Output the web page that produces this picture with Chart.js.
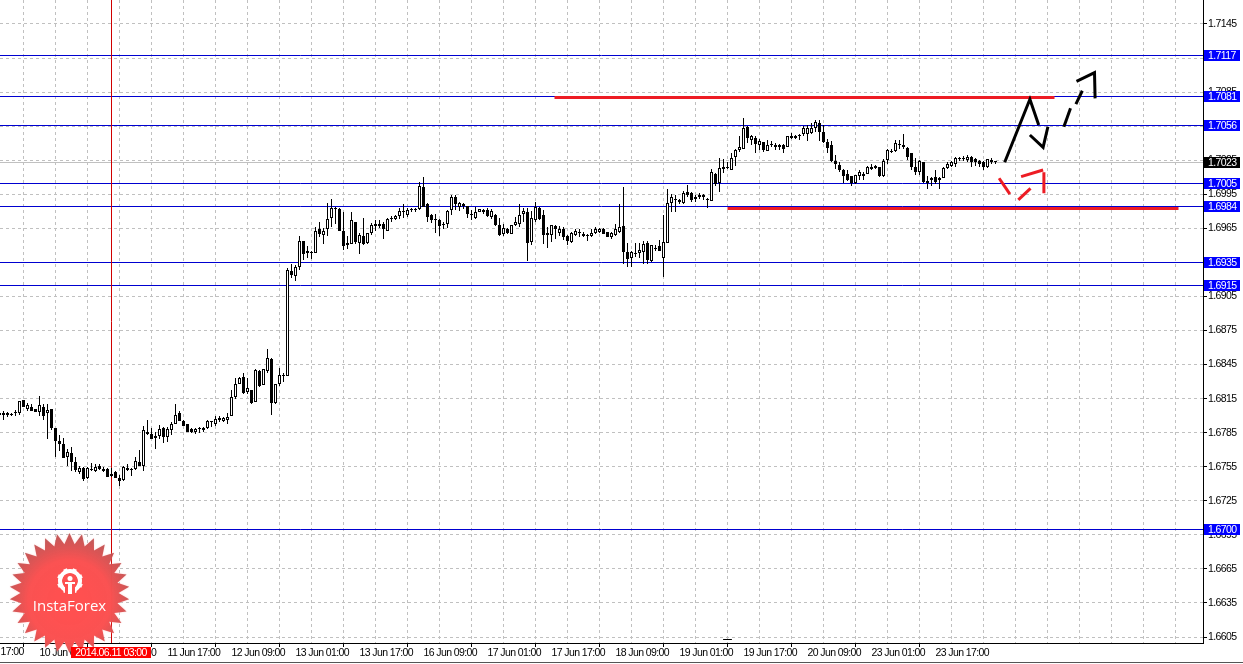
<!DOCTYPE html>
<html>
<head>
    <meta charset="utf-8">
    <title>GBPUSD H1</title>
    <script src="https://cdn.jsdelivr.net/npm/chart.js@4.4.1/dist/chart.umd.min.js"></script>
    <style>
        html, body { margin: 0; padding: 0; background: #fff; }
        canvas { display: block; }
    </style>
</head>
<body>
    <canvas id="myChart" width="1243" height="664"></canvas>
    <script>
        // hourly candles, x is the hour counted from the 09 Jun 23:00 bar
        const firstHour = -2;
        const opens = [
            1.6801,1.6801,1.6801,1.6801,1.6802,1.6802,1.6814,1.6806,1.6808,1.6806,
            1.6803,1.6808,1.6802,1.6806,1.6789,1.6778,1.6775,1.6764,1.6767,1.6759,
            1.6750,1.6754,1.6745,1.6752,1.6751,1.6756,1.6753,1.6753,1.6749,1.6750,
            1.6745,1.6743,1.6754,1.6753,1.6753,1.6759,1.6756,1.6786,1.6784,1.6782,
            1.6782,1.6789,1.6781,1.6787,1.6793,1.6802,1.6795,1.6793,1.6788,1.6786,
            1.6788,1.6789,1.6789,1.6795,1.6793,1.6796,1.6795,1.6796,1.6800,1.6816,
            1.6828,1.6834,1.6821,1.6823,1.6812,1.6839,1.6827,1.6839,1.6850,1.6811,
            1.6828,1.6835,1.6835,1.6927,1.6923,1.6931,1.6954,1.6943,1.6943,1.6943,
            1.6964,1.6959,1.6964,1.6974,1.6983,1.6982,1.6963,1.6950,1.6951,1.6971,
            1.6952,1.6958,1.6952,1.6961,1.6967,1.6967,1.6969,1.6963,1.6973,1.6973,
            1.6976,1.6979,1.6977,1.6981,1.6981,1.6982,1.7001,1.6986,1.6977,1.6973,
            1.6972,1.6969,1.6969,1.6981,1.6993,1.6984,1.6986,1.6985,1.6977,1.6974,
            1.6979,1.6981,1.6981,1.6975,1.6977,1.6968,1.6960,1.6964,1.6960,1.6968,
            1.6969,1.6978,1.6979,1.6953,1.6972,1.6983,1.6977,1.6959,1.6959,1.6967,
            1.6961,1.6964,1.6958,1.6953,1.6959,1.6961,1.6960,1.6959,1.6958,1.6961,
            1.6962,1.6964,1.6962,1.6957,1.6959,1.6962,1.6967,1.6944,1.6939,1.6943,
            1.6943,1.6944,1.6952,1.6936,1.6947,1.6949,1.6939,1.6952,1.6987,1.6990,
            1.6990,1.6987,1.6997,1.6996,1.6991,1.6993,1.6993,1.6991,1.6989,1.7013,
            1.7005,1.7017,1.7018,1.7016,1.7028,1.7034,1.7035,1.7054,1.7043,1.7045,
            1.7038,1.7041,1.7033,1.7038,1.7038,1.7037,1.7038,1.7037,1.7045,1.7045,
            1.7046,1.7048,1.7048,1.7049,1.7053,1.7058,1.7050,1.7041,1.7038,1.7024,
            1.7021,1.7016,1.7013,1.7011,1.7005,1.7011,1.7013,1.7013,1.7019,1.7018,
            1.7019,1.7011,1.7025,1.7032,1.7033,1.7038,1.7038,1.7036,1.7031,1.7019,
            1.7015,1.7023,1.7007,1.7008,1.7010,1.7009,1.7009,1.7018,1.7020,1.7022,
            1.7027,1.7026,1.7025,1.7028,1.7026,1.7024,1.7023,1.7019,1.7025,1.7024
        ];
        const highs = [
            1.6802,1.6804,1.6803,1.6802,1.6805,1.6813,1.6814,1.6811,1.6810,1.6806,
            1.6817,1.6810,1.6810,1.6806,1.6789,1.6783,1.6780,1.6771,1.6772,1.6764,
            1.6756,1.6755,1.6755,1.6758,1.6757,1.6757,1.6755,1.6754,1.6754,1.6751,
            1.6748,1.6756,1.6757,1.6754,1.6764,1.6770,1.6791,1.6796,1.6789,1.6786,
            1.6792,1.6790,1.6790,1.6794,1.6810,1.6804,1.6796,1.6793,1.6789,1.6789,
            1.6790,1.6790,1.6796,1.6795,1.6800,1.6800,1.6799,1.6802,1.6823,1.6833,
            1.6834,1.6838,1.6833,1.6823,1.6841,1.6840,1.6841,1.6859,1.6851,1.6828,
            1.6842,1.6838,1.6930,1.6934,1.6933,1.6958,1.6954,1.6949,1.6945,1.6966,
            1.6971,1.6965,1.6987,1.6991,1.6984,1.6983,1.6979,1.6958,1.6979,1.6971,
            1.6961,1.6974,1.6961,1.6970,1.6972,1.6972,1.6971,1.6974,1.6976,1.6977,
            1.6983,1.6986,1.6983,1.6983,1.6983,1.7006,1.7010,1.6987,1.6978,1.6978,
            1.6973,1.6971,1.6981,1.6994,1.6994,1.6988,1.6987,1.6985,1.6981,1.6984,
            1.6982,1.6982,1.6983,1.6982,1.6978,1.6974,1.6969,1.6965,1.6968,1.6975,
            1.6986,1.6983,1.6983,1.6980,1.6988,1.6984,1.6981,1.6966,1.6968,1.6968,
            1.6967,1.6966,1.6959,1.6962,1.6964,1.6964,1.6962,1.6960,1.6964,1.6966,
            1.6965,1.6965,1.6962,1.6962,1.6969,1.6986,1.7001,1.6952,1.6945,1.6952,
            1.6952,1.6954,1.6954,1.6950,1.6950,1.6955,1.6977,1.7000,1.6995,1.6994,
            1.6991,1.6998,1.7003,1.6997,1.6994,1.6996,1.6995,1.6992,1.7017,1.7014,
            1.7027,1.7026,1.7023,1.7031,1.7035,1.7046,1.7062,1.7055,1.7047,1.7046,
            1.7044,1.7041,1.7043,1.7042,1.7040,1.7039,1.7039,1.7046,1.7049,1.7047,
            1.7048,1.7055,1.7056,1.7058,1.7060,1.7060,1.7056,1.7044,1.7042,1.7030,
            1.7023,1.7017,1.7016,1.7011,1.7012,1.7016,1.7015,1.7020,1.7022,1.7021,
            1.7019,1.7026,1.7035,1.7035,1.7043,1.7043,1.7048,1.7037,1.7031,1.7027,
            1.7025,1.7023,1.7011,1.7010,1.7016,1.7010,1.7019,1.7023,1.7024,1.7028,
            1.7028,1.7029,1.7030,1.7029,1.7027,1.7025,1.7024,1.7026,1.7027,1.7024
        ];
        const lows = [
            1.6794,1.6796,1.6799,1.6800,1.6800,1.6801,1.6808,1.6804,1.6804,1.6803,
            1.6800,1.6796,1.6779,1.6787,1.6764,1.6769,1.6763,1.6756,1.6751,1.6750,
            1.6749,1.6742,1.6744,1.6751,1.6750,1.6752,1.6750,1.6746,1.6746,1.6745,
            1.6738,1.6742,1.6751,1.6747,1.6752,1.6756,1.6751,1.6783,1.6779,1.6771,
            1.6779,1.6776,1.6777,1.6783,1.6793,1.6795,1.6791,1.6786,1.6785,1.6784,
            1.6785,1.6786,1.6788,1.6790,1.6791,1.6794,1.6794,1.6793,1.6800,1.6815,
            1.6828,1.6819,1.6819,1.6810,1.6812,1.6825,1.6827,1.6838,1.6801,1.6810,
            1.6826,1.6830,1.6835,1.6921,1.6919,1.6928,1.6937,1.6939,1.6938,1.6943,
            1.6957,1.6951,1.6958,1.6966,1.6969,1.6963,1.6946,1.6947,1.6951,1.6951,
            1.6942,1.6950,1.6951,1.6959,1.6963,1.6965,1.6956,1.6963,1.6971,1.6972,
            1.6973,1.6974,1.6975,1.6979,1.6979,1.6981,1.6984,1.6971,1.6970,1.6961,
            1.6958,1.6964,1.6965,1.6977,1.6981,1.6980,1.6982,1.6974,1.6972,1.6973,
            1.6979,1.6978,1.6975,1.6973,1.6967,1.6958,1.6958,1.6960,1.6960,1.6967,
            1.6966,1.6971,1.6936,1.6950,1.6971,1.6972,1.6951,1.6948,1.6953,1.6956,
            1.6958,1.6955,1.6950,1.6952,1.6958,1.6957,1.6957,1.6954,1.6957,1.6960,
            1.6961,1.6960,1.6957,1.6956,1.6958,1.6961,1.6934,1.6931,1.6931,1.6940,
            1.6939,1.6934,1.6934,1.6935,1.6945,1.6945,1.6922,1.6952,1.6979,1.6979,
            1.6986,1.6986,1.6993,1.6988,1.6988,1.6991,1.6990,1.6983,1.6989,1.7002,
            1.6997,1.7014,1.7017,1.7016,1.7020,1.7032,1.7035,1.7040,1.7038,1.7031,
            1.7034,1.7032,1.7033,1.7037,1.7034,1.7034,1.7031,1.7037,1.7044,1.7044,
            1.7043,1.7046,1.7042,1.7048,1.7050,1.7042,1.7040,1.7031,1.7023,1.7017,
            1.7015,1.7005,1.7007,1.7002,1.7004,1.7008,1.7008,1.7013,1.7016,1.7017,
            1.7010,1.7010,1.7022,1.7031,1.7032,1.7035,1.7035,1.7025,1.7016,1.7012,
            1.7012,1.7005,1.7000,1.7002,1.7004,1.7000,1.7009,1.7017,1.7019,1.7019,
            1.7024,1.7024,1.7023,1.7019,1.7020,1.7019,1.7016,1.7018,1.7022,1.7022
        ];
        const closes = [
            1.6802,1.6802,1.6802,1.6801,1.6803,1.6813,1.6808,1.6809,1.6804,1.6803,
            1.6809,1.6800,1.6805,1.6789,1.6778,1.6775,1.6763,1.6768,1.6759,1.6752,
            1.6754,1.6744,1.6754,1.6753,1.6755,1.6753,1.6751,1.6746,1.6747,1.6745,
            1.6742,1.6755,1.6752,1.6752,1.6760,1.6756,1.6787,1.6784,1.6779,1.6780,
            1.6788,1.6781,1.6788,1.6793,1.6801,1.6795,1.6791,1.6786,1.6786,1.6788,
            1.6789,1.6787,1.6795,1.6794,1.6797,1.6798,1.6798,1.6799,1.6816,1.6828,
            1.6833,1.6820,1.6824,1.6811,1.6840,1.6826,1.6841,1.6851,1.6811,1.6828,
            1.6836,1.6836,1.6928,1.6924,1.6931,1.6954,1.6942,1.6945,1.6944,1.6963,
            1.6960,1.6963,1.6973,1.6983,1.6982,1.6963,1.6949,1.6952,1.6972,1.6953,
            1.6959,1.6951,1.6961,1.6968,1.6969,1.6969,1.6964,1.6973,1.6974,1.6976,
            1.6980,1.6979,1.6981,1.6982,1.6982,1.7002,1.6984,1.6975,1.6972,1.6972,
            1.6967,1.6968,1.6980,1.6993,1.6986,1.6987,1.6985,1.6978,1.6978,1.6979,
            1.6982,1.6979,1.6976,1.6980,1.6968,1.6959,1.6965,1.6961,1.6968,1.6971,
            1.6977,1.6980,1.6952,1.6974,1.6984,1.6973,1.6959,1.6961,1.6968,1.6964,
            1.6964,1.6957,1.6954,1.6961,1.6963,1.6962,1.6958,1.6958,1.6961,1.6964,
            1.6964,1.6960,1.6957,1.6961,1.6964,1.6966,1.6944,1.6938,1.6944,1.6942,
            1.6946,1.6951,1.6937,1.6950,1.6948,1.6945,1.6953,1.6987,1.6993,1.6991,
            1.6988,1.6996,1.6994,1.6990,1.6993,1.6994,1.6994,1.6990,1.7015,1.7004,
            1.7018,1.7019,1.7019,1.7027,1.7034,1.7037,1.7053,1.7045,1.7046,1.7039,
            1.7042,1.7034,1.7038,1.7039,1.7037,1.7038,1.7035,1.7046,1.7046,1.7046,
            1.7046,1.7053,1.7053,1.7053,1.7059,1.7050,1.7041,1.7036,1.7024,1.7022,
            1.7016,1.7011,1.7008,1.7005,1.7012,1.7015,1.7011,1.7019,1.7017,1.7020,
            1.7011,1.7024,1.7034,1.7033,1.7040,1.7039,1.7037,1.7028,1.7019,1.7015,
            1.7024,1.7006,1.7005,1.7009,1.7006,1.7008,1.7018,1.7022,1.7023,1.7027,
            1.7026,1.7027,1.7028,1.7023,1.7023,1.7022,1.7019,1.7026,1.7023,1.7023
        ];

        const priceTicks = [1.7145, 1.7115, 1.7085, 1.7055, 1.7025, 1.6995, 1.6965, 1.6935, 1.6905, 1.6875,
            1.6845, 1.6815, 1.6785, 1.6755, 1.6725, 1.6695, 1.6665, 1.6635, 1.6605];
        const gridHours = [0, 8, 16, 24, 32, 40, 48, 56, 64, 72, 80, 88, 96, 104, 112, 120, 128, 136, 144, 152,
            160, 168, 176, 184, 192, 200, 208, 216, 224, 232, 240, 248, 256, 264, 272, 280, 288, 296];
        const labelHours = [8, 24, 40, 56, 72, 88, 104, 120, 136, 152, 168, 184, 200, 216, 232];
        const timeLabels = ['10 Jun 09:00', '11 Jun 01:00', '11 Jun 17:00', '12 Jun 09:00', '13 Jun 01:00',
            '13 Jun 17:00', '16 Jun 09:00', '17 Jun 01:00', '17 Jun 17:00', '18 Jun 09:00', '19 Jun 01:00',
            '19 Jun 17:00', '20 Jun 09:00', '23 Jun 01:00', '23 Jun 17:00'];
        const cutOffLabel = '9 Jun 17:00';
        const cutOffHour = -8;

        const levels = [1.7117, 1.7081, 1.7056, 1.7005, 1.6984, 1.6935, 1.6915, 1.6700];
        const bid = 1.7023;
        const crossHour = 26;
        const crossLabel = '2014.06.11 03:00';

        // hand drawn analysis on top of the chart
        const redLevelTop = [[136.75, 1.7080], [261.75, 1.7080]];
        const redLevelBottom = [[180, 1.6983], [292.75, 1.6983]];
        const blackStrokes = [
            [[249.3, 1.70232], [255.6, 1.70787], [257.8, 1.7056]],
            [[255.6, 1.70472], [258.9, 1.70364], [260.1, 1.70545]],
            [[264.1, 1.70545], [265.75, 1.70707]],
            [[267.1, 1.70745], [268.7, 1.70862]],
            [[267.25, 1.70945], [271.75, 1.71021], [271.9, 1.70795]]
        ];
        const redStrokes = [
            [[247.9, 1.70091], [250.6, 1.69952]],
            [[252.7, 1.699], [255.75, 1.70002]],
            [[253.4, 1.70105], [258.9, 1.70164]],
            [[259.1, 1.70143], [259.1, 1.69958]]
        ];
        const smallDash = [[178.9, 1.66028], [181.1, 1.66028]];

        const FONT = "'Liberation Sans', sans-serif";
        const FONT_SIZE = 10.5;
        const BLUE = '#0000d0';

        function toXY(points) {
            return points.map(p => ({ x: p[0], y: p[1] }));
        }
        function lineSet(points, color, width, order, snap) {
            return { type: 'line', data: toXY(points), borderColor: color, borderWidth: width, pointRadius: 0, order: order, snap: !!snap };
        }

        const xMin = -1.875, xMax = 298.875;
        const yMin = 1.659972, yMax = 1.716614;

        const wicks = lows.map((l, i) => ({ x: firstHour + i, y: [l, highs[i]] }));
        const bodies = opens.map((o, i) => ({ x: firstHour + i, y: [o, closes[i]] }));

        const datasets = [];
        datasets.push({
            type: 'bar', data: bodies, barThickness: 3, grouped: false, borderWidth: 1, borderColor: '#000',
            borderSkipped: false, inflateAmount: 0, minBarLength: 1, order: 5,
            backgroundColor: c => (c.raw && c.raw.y[1] >= c.raw.y[0]) ? '#fff' : '#000'
        });
        datasets.push({
            type: 'bar', data: wicks, barThickness: 1, grouped: false, backgroundColor: '#000', inflateAmount: 0, order: 6
        });
        levels.forEach(v => datasets.push(lineSet([[xMin, v], [xMax, v]], BLUE, 1, 8, true)));
        datasets.push(lineSet([[xMin, bid], [xMax, bid]], '#c0c0c0', 1, 9, true));
        datasets.push(lineSet([[crossHour, yMin], [crossHour, yMax]], '#d00000', 1, 7));
        datasets.push(lineSet(redLevelTop, '#ed1c24', 3, 3, true));
        datasets.push(lineSet(redLevelBottom, '#ed1c24', 3, 3, true));
        blackStrokes.forEach(s => datasets.push(lineSet(s, '#000', 3, 2)));
        redStrokes.forEach(s => datasets.push(lineSet(s, '#ed1c24', 3, 2)));
        datasets.push(lineSet(smallDash, '#000', 1, 4, true));

        function drawLogo(ctx) {
            const cx = 69.5, cy = 593, spikes = 30;
            ctx.save();
            ctx.letterSpacing = '0px';
            ctx.beginPath();
            for (let i = 0; i < spikes * 2; i++) {
                const r = i % 2 ? 49 : 60;
                const a = Math.PI * i / spikes - Math.PI / 2;
                ctx.lineTo(cx + r * Math.cos(a), cy + r * Math.sin(a));
            }
            ctx.closePath();
            const g = ctx.createRadialGradient(cx, cy + 10, 15, cx, cy + 6, 68);
            g.addColorStop(0, 'rgba(255,80,80,1)');
            g.addColorStop(0.5, 'rgba(250,78,78,0.97)');
            g.addColorStop(1, 'rgba(176,68,68,0.85)');
            ctx.fillStyle = g;
            ctx.shadowColor = 'rgba(255,190,190,0.8)';
            ctx.shadowBlur = 2;
            ctx.fill();
            ctx.shadowBlur = 0;

            // gear with the little figure inside
            const gx = 70, gy = 581;
            ctx.fillStyle = '#fff';
            for (let i = 0; i < 8; i++) {
                const a = Math.PI * i / 4 + Math.PI / 8;
                ctx.save();
                ctx.translate(gx, gy);
                ctx.rotate(a);
                ctx.fillRect(-2, -13, 4, 5);
                ctx.restore();
            }
            ctx.beginPath();
            ctx.arc(gx, gy, 10, 0, Math.PI * 2);
            ctx.lineWidth = 4;
            ctx.strokeStyle = '#fff';
            ctx.stroke();
            ctx.fillStyle = '#ff5050';
            ctx.fillRect(gx - 5, gy + 4, 10, 10);
            ctx.fillStyle = '#fff';
            ctx.beginPath();
            ctx.arc(gx, gy - 2.5, 2.5, 0, Math.PI * 2);
            ctx.fill();
            ctx.fillRect(gx - 2, gy + 1, 4, 12);
            ctx.fillRect(gx - 5, gy + 1, 10, 2);

            ctx.font = "15px 'Open Sans', sans-serif";
            ctx.textAlign = 'center';
            ctx.textBaseline = 'middle';
            ctx.fillText('InstaForex', cx, 606.5);
            ctx.restore();
        }

        const overlay = {
            id: 'overlay',
            beforeDraw(chart) {
                chart.ctx.letterSpacing = '-0.6px';
            },
            beforeDatasetsDraw(chart) {
                // keep the thin marks on whole pixels, like the terminal draws them
                chart.data.datasets.forEach((ds, k) => {
                    const meta = chart.getDatasetMeta(k);
                    if (ds.type === 'bar') {
                        meta.data.forEach(el => {
                            el.y = Math.round(el.y);
                            el.base = Math.round(el.base);
                            if (el.y === el.base) el.base += 1;
                        });
                    } else if (ds.snap) {
                        meta.data.forEach(el => { el.y = Math.floor(el.y + 0.15) + 0.5; });
                    }
                });
            },
            afterDraw(chart) {
                const ctx = chart.ctx, y = chart.scales.y, x = chart.scales.x;
                ctx.save();
                ctx.font = FONT_SIZE + 'px ' + FONT;
                ctx.textBaseline = 'middle';
                ctx.textAlign = 'left';
                ctx.fillStyle = '#000';
                ctx.fillText(cutOffLabel, x.getPixelForValue(cutOffHour), 652);

                drawLogo(ctx);

                ctx.font = FONT_SIZE + 'px ' + FONT;
                ctx.textBaseline = 'middle';
                ctx.textAlign = 'left';
                levels.forEach(v => {
                    const p = Math.floor(y.getPixelForValue(v) + 0.15);
                    ctx.fillStyle = '#0000ff';
                    ctx.fillRect(1204, p - 5, 36, 11);
                    ctx.fillStyle = '#fff';
                    ctx.fillText(v.toFixed(4), 1208, p + 1);
                });
                const b = Math.floor(y.getPixelForValue(bid) + 0.15);
                ctx.fillStyle = '#000';
                ctx.fillRect(1204, b - 5, 36, 11);
                ctx.fillStyle = '#fff';
                ctx.fillText(bid.toFixed(4), 1208, b + 1);

                ctx.fillStyle = '#ff0000';
                ctx.fillRect(71, 647, 80, 11);
                ctx.fillStyle = '#fff';
                ctx.textAlign = 'center';
                ctx.fillText(crossLabel, 111, 653);

                ctx.fillStyle = '#555';
                ctx.fillRect(0, 662, 1243, 1);
                ctx.restore();
            }
        };

        function noPadding(scale) {
            scale.paddingLeft = 0;
            scale.paddingRight = 0;
            scale.paddingTop = 0;
            scale.paddingBottom = 0;
        }

        new Chart(document.getElementById('myChart'), {
            type: 'bar',
            data: { datasets: datasets },
            plugins: [overlay],
            options: {
                responsive: false,
                animation: false,
                events: [],
                layout: { autoPadding: false, padding: 0 },
                plugins: { legend: { display: false }, tooltip: { enabled: false }, title: { display: false } },
                scales: {
                    x: {
                        type: 'linear',
                        offset: false,
                        min: xMin,
                        max: xMax,
                        afterFit(scale) { scale.height = 21; noPadding(scale); },
                        afterBuildTicks(scale) { scale.ticks = gridHours.map(v => ({ value: v })); },
                        border: { color: '#000', dash: [3, 3] },
                        grid: {
                            color: '#c0c0c0',
                            tickLength: 4,
                            tickBorderDash: [],
                            tickColor: c => (c.tick && labelHours.includes(c.tick.value)) ? '#000' : 'rgba(0,0,0,0)'
                        },
                        ticks: {
                            autoSkip: false,
                            maxRotation: 0,
                            align: 'start',
                            padding: 0,
                            color: '#000',
                            font: { family: FONT, size: FONT_SIZE },
                            callback: v => {
                                const k = labelHours.indexOf(v);
                                return k >= 0 ? timeLabels[k] : '';
                            }
                        }
                    },
                    y: {
                        position: 'right',
                        min: yMin,
                        max: yMax,
                        afterFit(scale) { scale.width = 40; noPadding(scale); },
                        afterBuildTicks(scale) { scale.ticks = priceTicks.map(v => ({ value: v })); },
                        border: { color: '#000', dash: [3, 3] },
                        grid: { color: '#c0c0c0', tickLength: 4, tickBorderDash: [], tickColor: '#000' },
                        ticks: {
                            autoSkip: false,
                            padding: 1,
                            color: '#000',
                            font: { family: FONT, size: FONT_SIZE },
                            callback: v => v.toFixed(4)
                        }
                    }
                }
            }
        });
    </script>
</body>
</html>
